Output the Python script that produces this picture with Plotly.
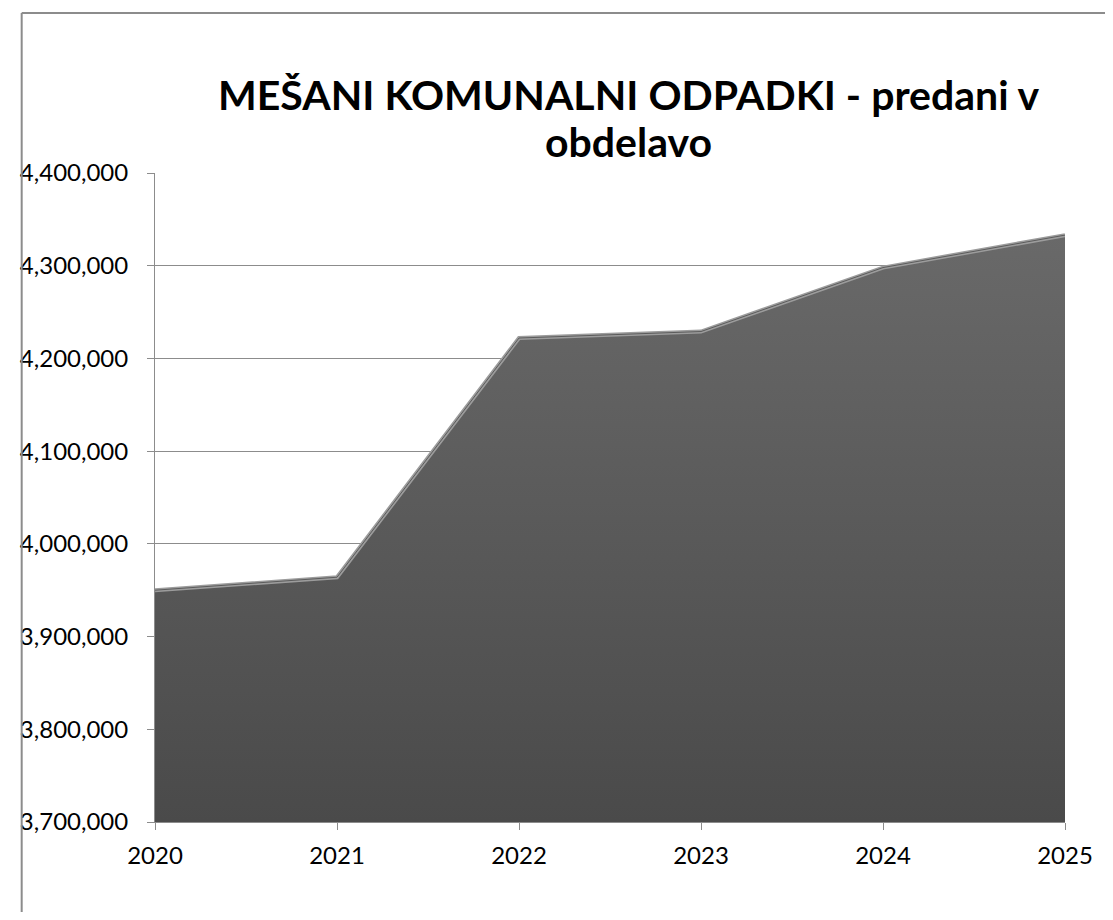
import plotly.graph_objects as go

years = [2020, 2021, 2022, 2023, 2024, 2025]
waste = [3950000, 3964000, 4222000, 4229000, 4298000, 4333000]

y_min, y_max, y_step = 3700000, 4400000, 100000
title_lines = ["MEŠANI KOMUNALNI ODPADKI - predani v", "obdelavo"]

fig = go.Figure()
fig.add_trace(go.Scatter(
    x=years, y=waste, mode="lines", fill="tozeroy",
    line=dict(color="#9c9c9c", width=4),
    fillgradient=dict(type="vertical", start=y_min, stop=max(waste),
                      colorscale=[[0, "#4a4a4a"], [1, "#696969"]]),
    hoverinfo="x+y", showlegend=False))
# thin dark outline on the top edge
fig.add_trace(go.Scatter(
    x=years, y=waste, mode="lines",
    line=dict(color="#5c5c5c", width=1),
    hoverinfo="skip", showlegend=False))

grid = "#8c8c8c"
font_family = "Lato, Open Sans, sans-serif"

# page body has an 8px margin: keep the figure inside the 1113x920 window
fig.update_layout(
    width=1097, height=904,
    margin=dict(l=137, r=28, t=165, b=90),
    paper_bgcolor="white", plot_bgcolor="white",
    font=dict(family=font_family, size=24, color="black"),
    xaxis=dict(range=[years[0], years[-1]], tickmode="array", tickvals=years,
               ticktext=[str(y) for y in years], showgrid=False,
               showline=True, linecolor=grid, linewidth=1,
               ticks="outside", ticklen=7, tickcolor=grid, zeroline=False,
               ticklabelstandoff=5),
    yaxis=dict(range=[y_min, y_max], dtick=y_step, tick0=y_min, tickformat=",",
               showgrid=True, gridcolor=grid, gridwidth=1,
               showline=True, linecolor=grid, linewidth=1,
               ticks="outside", ticklen=7, tickcolor=grid, zeroline=False,
               ticklabelstandoff=14),
    shapes=[
        dict(type="line", xref="paper", yref="paper", x0=-0.1465, x1=-0.1465,
             y0=1.2465, y1=-0.3, line=dict(color=grid, width=2)),
        dict(type="line", xref="paper", yref="paper", x0=-0.1465, x1=1.2,
             y0=1.2465, y1=1.2465, line=dict(color=grid, width=2)),
    ],
)

for text, ypos in zip(title_lines, [1.1217, 1.0478]):
    fig.add_annotation(text=f"<b>{text}</b>", xref="paper", yref="paper",
                       x=0.5204, y=ypos, xanchor="center", yanchor="middle",
                       showarrow=False,
                       font=dict(family=font_family, size=41, color="black"))

fig.write_html("out.html")
